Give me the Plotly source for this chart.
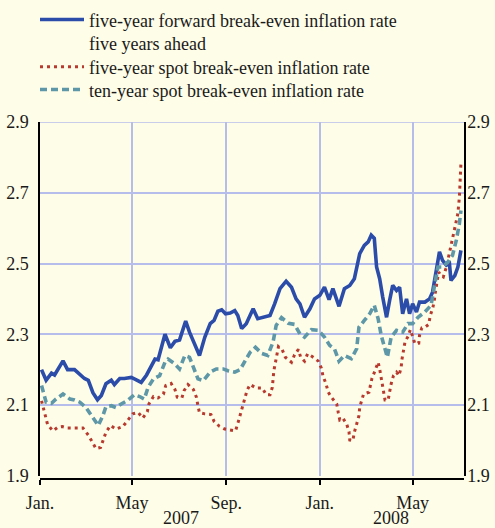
import plotly.graph_objects as go

# five-year forward break-even inflation rate five years ahead
fwd_dates = ["2007-01-03","2007-01-09","2007-01-16","2007-01-20","2007-01-31","2007-02-06","2007-02-15","2007-02-20",
    "2007-02-28","2007-03-05","2007-03-11","2007-03-17","2007-03-22","2007-03-28","2007-04-04","2007-04-08",
    "2007-04-15","2007-04-21","2007-04-30","2007-05-06","2007-05-13","2007-05-20","2007-05-31","2007-06-04",
    "2007-06-13","2007-06-20","2007-06-26","2007-07-02","2007-07-10","2007-07-15","2007-07-22","2007-07-28",
    "2007-08-04","2007-08-11","2007-08-16","2007-08-21","2007-08-26","2007-08-31","2007-09-06","2007-09-12",
    "2007-09-16","2007-09-21","2007-09-27","2007-10-06","2007-10-12","2007-10-21","2007-10-28","2007-11-03",
    "2007-11-10","2007-11-18","2007-11-25","2007-12-01","2007-12-06","2007-12-12","2007-12-19","2007-12-25",
    "2008-01-01","2008-01-07","2008-01-13","2008-01-18","2008-01-26","2008-02-02","2008-02-09","2008-02-15",
    "2008-02-20","2008-02-22","2008-02-28","2008-03-04","2008-03-08","2008-03-12","2008-03-15","2008-03-19",
    "2008-03-23","2008-03-28","2008-04-01","2008-04-05","2008-04-10","2008-04-14","2008-04-18","2008-04-23",
    "2008-04-27","2008-05-01","2008-05-06","2008-05-10","2008-05-17","2008-05-23","2008-05-27","2008-06-01",
    "2008-06-05","2008-06-09","2008-06-14","2008-06-18","2008-06-20","2008-06-25","2008-06-29","2008-07-03"]
fwd_values = [2.20,2.17,2.19,2.185,2.225,2.20,2.20,2.19,
    2.175,2.17,2.135,2.115,2.127,2.16,2.17,2.158,
    2.175,2.175,2.178,2.172,2.164,2.185,2.23,2.228,
    2.30,2.262,2.28,2.284,2.337,2.306,2.268,2.24,
    2.292,2.33,2.339,2.365,2.369,2.358,2.36,2.367,
    2.353,2.316,2.33,2.372,2.344,2.349,2.353,2.386,
    2.429,2.45,2.433,2.40,2.386,2.348,2.372,2.40,
    2.41,2.433,2.398,2.429,2.379,2.429,2.438,2.457,
    2.504,2.528,2.551,2.561,2.58,2.571,2.49,2.457,
    2.405,2.348,2.396,2.438,2.424,2.433,2.358,2.40,
    2.358,2.386,2.363,2.391,2.391,2.40,2.419,2.481,
    2.533,2.509,2.495,2.50,2.452,2.466,2.49,2.537]

# five-year spot break-even inflation rate
spot5_dates = ["2007-01-03","2007-01-08","2007-01-11","2007-01-18","2007-01-24","2007-01-30","2007-02-06","2007-02-17",
    "2007-02-26","2007-03-05","2007-03-10","2007-03-15","2007-03-21","2007-03-24","2007-03-28","2007-04-03",
    "2007-04-10","2007-04-19","2007-04-26","2007-05-02","2007-05-09","2007-05-15","2007-05-21","2007-05-23",
    "2007-05-29","2007-06-04","2007-06-11","2007-06-14","2007-06-21","2007-06-26","2007-06-29","2007-07-05",
    "2007-07-08","2007-07-13","2007-07-20","2007-07-24","2007-07-26","2007-07-28","2007-08-04","2007-08-12",
    "2007-08-16","2007-08-23","2007-08-30","2007-09-06","2007-09-13","2007-09-16","2007-09-19","2007-09-22",
    "2007-09-25","2007-09-28","2007-10-02","2007-10-10","2007-10-18","2007-10-23","2007-10-28","2007-10-31",
    "2007-11-02","2007-11-04","2007-11-06","2007-11-08","2007-11-13","2007-11-17","2007-11-25","2007-11-29",
    "2007-12-04","2007-12-07","2007-12-12","2007-12-16","2007-12-22","2007-12-30","2008-01-03","2008-01-05",
    "2008-01-09","2008-01-12","2008-01-16","2008-01-23","2008-01-25","2008-01-27","2008-01-31","2008-02-05",
    "2008-02-08","2008-02-09","2008-02-13","2008-02-15","2008-02-18","2008-02-21","2008-02-22","2008-02-27",
    "2008-03-05","2008-03-09","2008-03-13","2008-03-17","2008-03-19","2008-03-21","2008-03-23","2008-03-24",
    "2008-03-26","2008-03-30","2008-04-01","2008-04-03","2008-04-06","2008-04-10","2008-04-13","2008-04-16",
    "2008-04-17","2008-04-19","2008-04-21","2008-04-25","2008-04-28","2008-05-01","2008-05-04","2008-05-09",
    "2008-05-10","2008-05-13","2008-05-17","2008-05-22","2008-05-24","2008-05-27","2008-05-29","2008-05-31",
    "2008-06-02","2008-06-04","2008-06-07","2008-06-10","2008-06-14","2008-06-17","2008-06-20","2008-06-23",
    "2008-06-25","2008-06-27","2008-06-29","2008-06-30","2008-07-01","2008-07-02","2008-07-03"]
spot5_values = [2.112,2.067,2.044,2.027,2.037,2.039,2.035,2.035,
    2.035,2.015,1.997,1.977,1.98,2.001,2.023,2.042,
    2.032,2.039,2.058,2.075,2.079,2.063,2.081,2.103,
    2.124,2.12,2.131,2.155,2.161,2.144,2.122,2.12,
    2.141,2.158,2.144,2.122,2.098,2.078,2.075,2.073,
    2.054,2.04,2.032,2.029,2.027,2.048,2.072,2.093,
    2.117,2.141,2.158,2.148,2.148,2.129,2.129,2.15,
    2.197,2.218,2.24,2.265,2.256,2.235,2.221,2.242,
    2.257,2.235,2.224,2.245,2.237,2.224,2.204,2.183,
    2.16,2.136,2.122,2.103,2.079,2.058,2.063,2.046,
    2.025,2.001,1.999,2.023,2.046,2.07,2.094,2.131,
    2.136,2.176,2.197,2.221,2.202,2.178,2.155,2.136,
    2.114,2.114,2.139,2.16,2.183,2.193,2.183,2.205,
    2.228,2.254,2.278,2.294,2.313,2.294,2.273,2.275,
    2.297,2.318,2.32,2.328,2.353,2.372,2.391,2.424,
    2.452,2.476,2.466,2.462,2.49,2.52,2.549,2.575,
    2.596,2.618,2.641,2.665,2.688,2.736,2.783]

# ten-year spot break-even inflation rate
spot10_dates = ["2007-01-03","2007-01-09","2007-01-16","2007-01-22","2007-01-31","2007-02-09","2007-02-15","2007-02-22",
    "2007-03-02","2007-03-11","2007-03-18","2007-03-24","2007-03-28","2007-04-04","2007-04-10","2007-04-17",
    "2007-04-26","2007-05-04","2007-05-11","2007-05-17","2007-05-22","2007-05-29","2007-06-06","2007-06-13",
    "2007-06-17","2007-06-26","2007-07-02","2007-07-09","2007-07-15","2007-07-20","2007-07-26","2007-08-02",
    "2007-08-11","2007-08-19","2007-08-28","2007-09-03","2007-09-12","2007-09-19","2007-09-25","2007-10-02",
    "2007-10-09","2007-10-17","2007-10-25","2007-11-01","2007-11-05","2007-11-12","2007-11-21","2007-11-29",
    "2007-12-06","2007-12-12","2007-12-21","2007-12-30","2008-01-07","2008-01-14","2008-01-20","2008-01-26",
    "2008-02-02","2008-02-11","2008-02-18","2008-02-21","2008-02-28","2008-03-06","2008-03-12","2008-03-17",
    "2008-03-21","2008-03-26","2008-03-29","2008-04-03","2008-04-10","2008-04-18","2008-04-25","2008-05-01",
    "2008-05-08","2008-05-17","2008-05-25","2008-05-30","2008-06-03","2008-06-09","2008-06-16","2008-06-22",
    "2008-06-27","2008-07-01","2008-07-03"]
spot10_values = [2.155,2.108,2.105,2.117,2.131,2.117,2.114,2.108,
    2.093,2.065,2.042,2.07,2.095,2.098,2.093,2.103,
    2.114,2.129,2.124,2.117,2.15,2.174,2.183,2.221,
    2.23,2.216,2.202,2.24,2.235,2.207,2.174,2.169,
    2.193,2.202,2.202,2.197,2.193,2.20,2.224,2.249,
    2.263,2.246,2.24,2.278,2.325,2.347,2.331,2.328,
    2.301,2.292,2.313,2.311,2.292,2.268,2.259,2.224,
    2.24,2.231,2.259,2.32,2.339,2.358,2.382,2.344,
    2.297,2.263,2.235,2.292,2.311,2.306,2.33,2.33,
    2.348,2.363,2.382,2.443,2.49,2.49,2.504,2.523,
    2.566,2.613,2.65]

x_tick_dates = ["2007-01-01", "2007-05-01", "2007-09-01", "2008-01-01", "2008-05-01"]
x_tick_labels = ["Jan.", "May", "Sep.", "Jan.", "May"]
y_ticks = [1.9, 2.1, 2.3, 2.5, 2.7, 2.9]
y_tick_labels = ["1.9", "2.1", "2.3", "2.5", "2.7", "2.9"]
year_labels = ["2007", "2008"]
year_label_dates = ["2007-07-04", "2008-04-03"]

series_names = [
    "five-year forward break-even inflation rate<br>five years ahead",
    "five-year spot break-even inflation rate",
    "ten-year spot break-even inflation rate",
]

BG = "#FEFDE8"
GRID = "#B7BDEB"
FONT = "'Liberation Serif', 'Times New Roman', 'DejaVu Serif', serif"
TXT = "#1a1a1a"
FS = 18

fig = go.Figure()
fig.add_trace(go.Scatter(x=fwd_dates, y=fwd_values, mode="lines", name=series_names[0],
                         line=dict(color="#2C4CAA", width=3.6), legend="legend"))
fig.add_trace(go.Scatter(x=spot5_dates, y=spot5_values, mode="lines", name=series_names[1],
                         line=dict(color="#B83A2E", width=3, dash="3px,4px"), legend="legend2"))
fig.add_trace(go.Scatter(x=spot10_dates, y=spot10_values, mode="lines", name=series_names[2],
                         line=dict(color="#5E97A7", width=3.6, dash="7px,4px"), legend="legend3"))
# invisible trace to carry the right-hand axis
fig.add_trace(go.Scatter(x=[fwd_dates[0]], y=[None], yaxis="y2", showlegend=False,
                         hoverinfo="skip", mode="lines"))

legend_style = dict(x=0.0707, xref="container", xanchor="left", yanchor="top",
                    bgcolor="rgba(0,0,0,0)", itemwidth=44, valign="top",
                    font=dict(family=FONT, size=FS, color=TXT))

fig.update_layout(
    width=495, height=528,
    margin=dict(l=40, r=31, t=122, b=49, autoexpand=False),
    paper_bgcolor=BG, plot_bgcolor=BG,
    font=dict(family=FONT, size=FS, color=TXT),
    showlegend=True,
    legend=dict(y=1.338, **legend_style),
    legend2=dict(y=1.206, **legend_style),
    legend3=dict(y=1.142, **legend_style),
    xaxis=dict(
        type="date",
        range=["2007-01-01", "2008-07-07"],
        tickmode="array", tickvals=x_tick_dates, ticktext=x_tick_labels,
        showgrid=True, gridcolor=GRID, gridwidth=1.5,
        showline=True, linecolor="black", linewidth=1.5,
        ticks="outside", ticklen=5, tickcolor="black", tickwidth=1.5,
        ticklabelstandoff=3,
        anchor="free", position=0, automargin=False,
        zeroline=False,
        tickfont=dict(family=FONT, size=FS, color=TXT),
    ),
    yaxis=dict(
        range=[1.9, 2.9], domain=[0.009, 1],
        tickmode="array", tickvals=y_ticks, ticktext=y_tick_labels,
        showgrid=True, gridcolor=GRID, gridwidth=1.5,
        showline=True, linecolor="black", linewidth=1.5, mirror=False,
        ticks="", ticklabelstandoff=6, zeroline=False, automargin=False,
        tickfont=dict(family=FONT, size=FS, color=TXT),
    ),
    yaxis2=dict(
        range=[1.9, 2.9], domain=[0.009, 1], overlaying="y", side="right", anchor="x",
        tickmode="array", tickvals=y_ticks, ticktext=y_tick_labels,
        showgrid=False, showline=True, linecolor="black", linewidth=1.5,
        ticks="", ticklabelstandoff=-2, zeroline=False, automargin=False,
        tickfont=dict(family=FONT, size=FS, color=TXT),
    ),
)

# top border as a grid-coloured line
fig.add_shape(type="line", xref="paper", yref="y", x0=0, x1=1, y0=2.9, y1=2.9,
              line=dict(color=GRID, width=1.5), layer="below")

for lab, d in zip(year_labels, year_label_dates):
    fig.add_annotation(x=d, y=-0.109, xref="x", yref="paper", text=lab, showarrow=False,
                       yanchor="middle", xanchor="center", borderpad=0,
                       font=dict(family=FONT, size=FS, color=TXT))

fig.write_html("out.html", config={"displayModeBar": False},
               post_script="document.body.style.margin='0';document.body.style.background='" + BG + "';")
